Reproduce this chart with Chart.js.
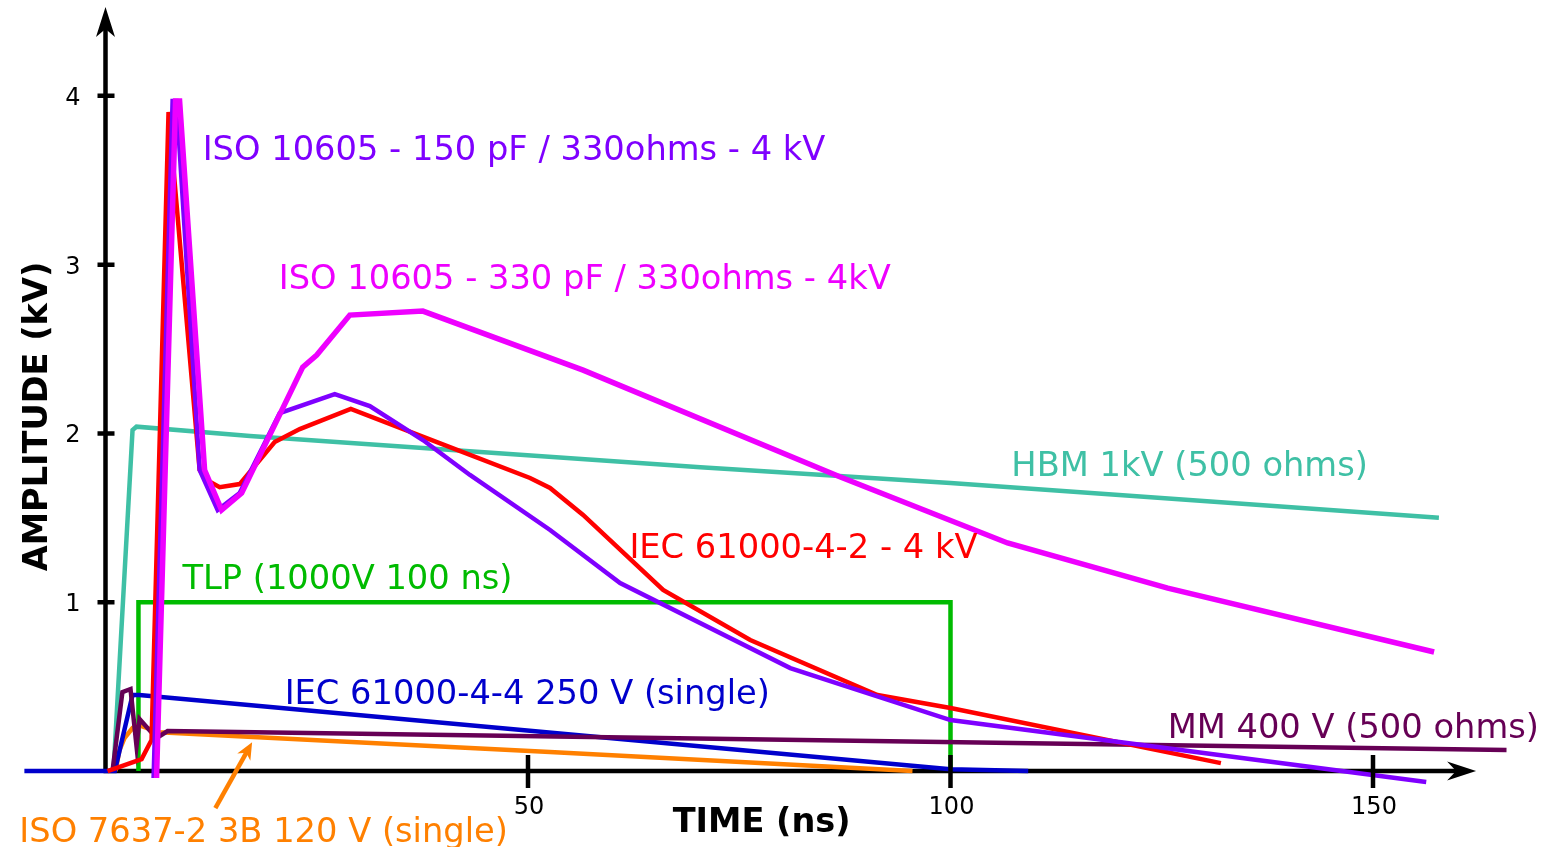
<!DOCTYPE html>
<html>
<head>
<meta charset="utf-8">
<script src="https://cdn.jsdelivr.net/npm/chart.js@4/dist/chart.umd.min.js"></script>
<style>
html,body{margin:0;padding:0;background:#fff;}
#wrap{width:1545px;height:847px;position:relative;}
</style>
</head>
<body>
<div id="wrap"><canvas id="c"></canvas></div>
<script>
// ---- DATA (time in ns, amplitude in kV) ----
const tlpT = [3.9, 3.9, 100, 100];
const tlpV = [0, 1, 1, 0];

const hbmT = [0.95, 3.2, 3.67, 17.1, 70.4, 100, 157.8];
const hbmV = [0, 2.02, 2.04, 1.985, 1.80, 1.706, 1.50];

const iso7637T = [1.18, 1.66, 2.25, 3.2, 4.0, 6.4, 40.8, 52.6, 95.5];
const iso7637V = [0, 0.124, 0.195, 0.255, 0.27, 0.23, 0.142, 0.113, 0];

const iec444T = [-9.6, 1.1, 3.2, 4.0, 100, 109.2];
const iec444V = [0, 0, 0.45, 0.45, 0.01, 0];

const mmT = [0.83, 2.0, 2.96, 3.67, 4.03, 6.04, 7.35, 165.8];
const mmV = [0, 0.468, 0.486, 0.148, 0.308, 0.195, 0.237, 0.124];

const iec442T = [0.24, 4.27, 5.45, 7.46, 11.14, 11.97, 13.51, 15.88, 20.02, 22.99, 29.03, 40.76, 50.24, 52.61, 56.52, 65.99, 76.3, 91.35, 100, 132.0];
const iec442V = [0, 0.071, 0.184, 3.904, 1.783, 1.724, 1.682, 1.70, 1.949, 2.026, 2.145, 1.919, 1.736, 1.677, 1.517, 1.073, 0.776, 0.45, 0.373, 0.047];

const iso150T = [5.69, 7.94, 8.41, 11.14, 13.27, 15.88, 20.62, 27.13, 31.28, 37.56, 43.13, 52.61, 60.9, 81.04, 100, 156.3];
const iso150V = [-0.041, 3.969, 3.969, 1.783, 1.546, 1.647, 2.121, 2.233, 2.162, 1.961, 1.754, 1.428, 1.114, 0.61, 0.302, -0.065];

const iso330T = [6.04, 8.29, 8.77, 11.73, 13.74, 16.11, 23.34, 25.0, 28.91, 37.56, 56.52, 86.97, 106.75, 125.71, 157.23];
const iso330V = [-0.041, 3.969, 3.969, 1.783, 1.546, 1.647, 2.393, 2.464, 2.701, 2.725, 2.375, 1.742, 1.351, 1.084, 0.705];

const xTicks = [50, 100, 150];
const yTicks = [1, 2, 3, 4];

const xTitle = 'TIME (ns)';
const yTitle = 'AMPLITUDE (kV)';

// labels: text, colour, anchor (time, amplitude) at left baseline
const labelText = [
  'ISO 10605 - 150 pF / 330ohms - 4 kV',
  'ISO 10605 - 330 pF / 330ohms - 4kV',
  'HBM 1kV (500 ohms)',
  'IEC 61000-4-2 - 4 kV',
  'TLP (1000V 100 ns)',
  'IEC 61000-4-4 250 V (single)',
  'MM 400 V (500 ohms)',
  'ISO 7637-2 3B 120 V (single)'
];
const labelT = [11.5, 20.5, 107.2, 62.0, 9.1, 21.2, 125.7, -10.2];
const labelV = [3.62, 2.855, 1.748, 1.262, 1.078, 0.397, 0.195, -0.42];

const C = {
  violet: '#7f00ff', magenta: '#ee00ff', red: '#ff0000', teal: '#3fc0a5',
  green: '#00bb00', blue: '#0000cc', mm: '#660055', orange: '#ff8000'
};
const labelColor = [C.violet, C.magenta, C.teal, C.red, C.green, C.blue, C.mm, C.orange];

function pts(t, v) { return t.map((x, i) => ({ x: x, y: v[i] })); }

function ds(t, v, color, order, w) {
  return { data: pts(t, v), borderColor: color, borderWidth: w || 4, showLine: true,
    pointRadius: 0, tension: 0, fill: false, order: order, borderJoinStyle: 'miter', clip: false };
}

const FONT = "'DejaVu Sans', 'Liberation Sans', sans-serif";

const axesPlugin = {
  id: 'axesPlugin',
  beforeDatasetsDraw(chart) {
    const { ctx, scales: { x, y } } = chart;
    const x0 = x.getPixelForValue(0), y0 = y.getPixelForValue(0);
    ctx.save();
    ctx.strokeStyle = '#000';
    ctx.lineWidth = 4.5;
    ctx.lineCap = 'butt';
    ctx.beginPath();
    ctx.moveTo(x0 - 2, y0);
    ctx.lineTo(x.getPixelForValue(160), y0);
    ctx.moveTo(x0, y0 + 2);
    ctx.lineTo(x0, y.getPixelForValue(4.45));
    ctx.stroke();
    ctx.restore();
  },
  afterDatasetsDraw(chart) {
    const { ctx, scales: { x, y } } = chart;
    const x0 = x.getPixelForValue(0), y0 = y.getPixelForValue(0);
    ctx.save();
    ctx.fillStyle = '#000';
    ctx.strokeStyle = '#000';
    // arrow heads
    const xt = x.getPixelForValue(162.2);
    ctx.beginPath();
    ctx.moveTo(xt, y0);
    ctx.lineTo(xt - 29, y0 - 9.5);
    ctx.lineTo(xt - 20, y0);
    ctx.lineTo(xt - 29, y0 + 9.5);
    ctx.closePath();
    ctx.fill();
    const yt = y.getPixelForValue(4.526);
    ctx.beginPath();
    ctx.moveTo(x0, yt);
    ctx.lineTo(x0 + 9.5, yt + 30);
    ctx.lineTo(x0, yt + 22);
    ctx.lineTo(x0 - 9.5, yt + 30);
    ctx.closePath();
    ctx.fill();
    // ticks
    ctx.lineWidth = 4.5;
    ctx.beginPath();
    xTicks.forEach(t => {
      const px = x.getPixelForValue(t);
      ctx.moveTo(px, y0 - 16);
      ctx.lineTo(px, y0 + 17);
    });
    yTicks.forEach(v => {
      const py = y.getPixelForValue(v);
      ctx.moveTo(x0 - 8, py);
      ctx.lineTo(x0 + 9, py);
    });
    ctx.stroke();
    ctx.font = '24px ' + FONT;
    ctx.textAlign = 'center';
    ctx.textBaseline = 'alphabetic';
    xTicks.forEach(t => {
      ctx.fillText(String(t), x.getPixelForValue(t) + 1, y0 + 43);
    });
    ctx.textAlign = 'right';
    yTicks.forEach(v => {
      ctx.fillText(String(v), x0 - 25, y.getPixelForValue(v) + 9);
    });
    // titles
    ctx.font = 'bold 33.6px ' + FONT;
    ctx.textAlign = 'center';
    ctx.fillText(xTitle, x.getPixelForValue(77.65), y0 + 61);
    ctx.save();
    ctx.translate(x0 - 59, y.getPixelForValue(2.1));
    ctx.rotate(-Math.PI / 2);
    ctx.fillText(yTitle, 0, 0);
    ctx.restore();
    // series labels
    ctx.font = '33.7px ' + FONT;
    ctx.textAlign = 'left';
    labelText.forEach((s, i) => {
      ctx.fillStyle = labelColor[i];
      ctx.fillText(s, x.getPixelForValue(labelT[i]), y.getPixelForValue(labelV[i]));
    });
    // orange pointer arrow
    const ax0 = x.getPixelForValue(13.0), ay0 = y.getPixelForValue(-0.22);
    const ax1 = x.getPixelForValue(17.35), ay1 = y.getPixelForValue(0.17);
    const dx = ax1 - ax0, dy = ay1 - ay0, L = Math.hypot(dx, dy);
    const ux = dx / L, uy = dy / L, px = -uy, py = ux;
    ctx.strokeStyle = C.orange;
    ctx.fillStyle = C.orange;
    ctx.lineWidth = 4.5;
    ctx.beginPath();
    ctx.moveTo(ax0, ay0);
    ctx.lineTo(ax1 - ux * 10, ay1 - uy * 10);
    ctx.stroke();
    ctx.beginPath();
    ctx.moveTo(ax1, ay1);
    ctx.lineTo(ax1 - ux * 17 + px * 7.5, ay1 - uy * 17 + py * 7.5);
    ctx.lineTo(ax1 - ux * 12, ay1 - uy * 12);
    ctx.lineTo(ax1 - ux * 17 - px * 7.5, ay1 - uy * 17 - py * 7.5);
    ctx.closePath();
    ctx.fill();
    ctx.restore();
  }
};

new Chart(document.getElementById('c'), {
  type: 'scatter',
  data: {
    datasets: [
      ds(iso330T, iso330V, C.magenta, 1, 5.5),
      ds(iso150T, iso150V, C.violet, 2, 4.5),
      ds(iec442T, iec442V, C.red, 3, 4.5),
      ds(mmT, mmV, C.mm, 4, 4.5),
      ds(iec444T, iec444V, C.blue, 5, 4.5),
      ds(iso7637T, iso7637V, C.orange, 6, 4.5),
      ds(hbmT, hbmV, C.teal, 7, 4.5),
      ds(tlpT, tlpV, C.green, 8, 4.5)
    ]
  },
  options: {
    responsive: true,
    maintainAspectRatio: false,
    animation: false,
    events: [],
    layout: { padding: { left: 21, right: 3, top: 3, bottom: 0 } },
    plugins: { legend: { display: false }, tooltip: { enabled: false } },
    scales: {
      x: { type: 'linear', min: -10, max: 170, display: false },
      y: { type: 'linear', min: -0.45, max: 4.55, display: false }
    }
  },
  plugins: [axesPlugin]
});
</script>
</body>
</html>
